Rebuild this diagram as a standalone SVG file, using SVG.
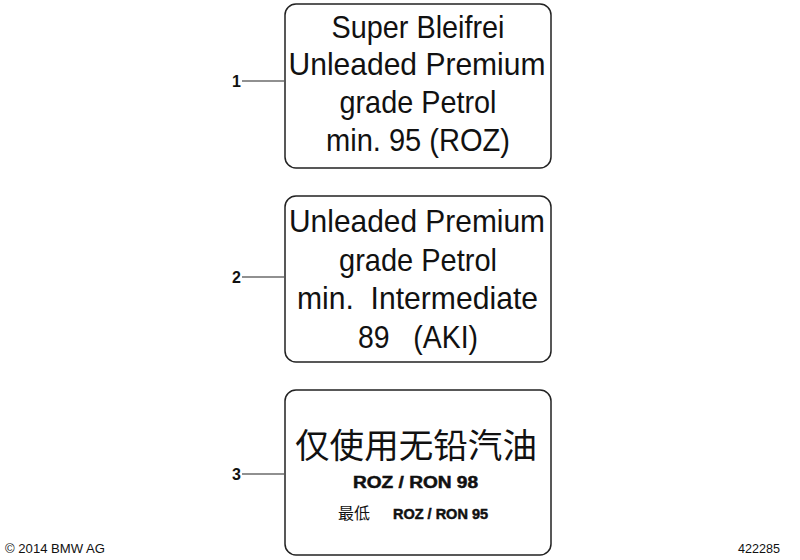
<svg xmlns="http://www.w3.org/2000/svg" width="800" height="560" viewBox="0 0 800 560">
<style>
.box{fill:#fff;stroke:#222;stroke-width:1.5}
.lead{stroke:#222;stroke-width:1.2;fill:none}
.t{font-family:"Liberation Sans",Arial,sans-serif;font-size:32px;fill:#111;text-anchor:middle}
.num{font-family:"Liberation Sans",Arial,sans-serif;font-size:16px;font-weight:bold;fill:#111;text-anchor:end}
.cn{font-family:"Liberation Sans","Noto Sans CJK SC",sans-serif;fill:#111}
.b{font-family:"Liberation Sans",Arial,sans-serif;font-weight:bold;fill:#111;stroke:#111;stroke-width:0.5}
.foot{font-family:"Liberation Sans",Arial,sans-serif;font-size:13px;fill:#111}
</style>
<rect width="800" height="560" fill="#fff"/>
<g id="connectors">
<line class="lead" x1="242" y1="81" x2="284" y2="81"/>
<line class="lead" x1="242" y1="277" x2="284" y2="277"/>
<line class="lead" x1="242" y1="474" x2="284" y2="474"/>
</g>
<g id="node1">
<rect class="box" x="285" y="4" width="266" height="164" rx="11"/>
<text class="t" x="418" y="38" textLength="173" lengthAdjust="spacingAndGlyphs">Super Bleifrei</text>
<text class="t" x="417" y="75" textLength="257" lengthAdjust="spacingAndGlyphs">Unleaded Premium</text>
<text class="t" x="418" y="113" textLength="157" lengthAdjust="spacingAndGlyphs">grade Petrol</text>
<text class="t" x="418" y="151" textLength="184" lengthAdjust="spacingAndGlyphs">min. 95 (ROZ)</text>
<text class="num" x="241" y="87">1</text>
</g>
<g id="node2">
<rect class="box" x="285" y="196" width="266" height="166" rx="11"/>
<text class="t" x="417" y="232" textLength="256" lengthAdjust="spacingAndGlyphs">Unleaded Premium</text>
<text class="t" x="418" y="271" textLength="158" lengthAdjust="spacingAndGlyphs">grade Petrol</text>
<text class="t" x="417.5" y="309" textLength="241" lengthAdjust="spacingAndGlyphs" xml:space="preserve">min.  Intermediate</text>
<text class="t" x="418" y="348" textLength="120" lengthAdjust="spacingAndGlyphs" xml:space="preserve">89   (AKI)</text>
<text class="num" x="241" y="283">2</text>
</g>
<g id="node3">
<rect class="box" x="285" y="390" width="266" height="165" rx="11"/>
<text class="cn" x="416" y="458" font-size="34" text-anchor="middle" textLength="242" lengthAdjust="spacingAndGlyphs">仅使用无铅汽油</text>
<text class="b" x="415.5" y="488" font-size="16" text-anchor="middle" textLength="125" lengthAdjust="spacingAndGlyphs">ROZ / RON 98</text>
<text class="cn" x="338" y="519" font-size="16" textLength="32" lengthAdjust="spacingAndGlyphs">最低</text>
<text class="b" x="393" y="519" font-size="14" textLength="95" lengthAdjust="spacingAndGlyphs">ROZ / RON 95</text>
<text class="num" x="241" y="480">3</text>
</g>
<text class="foot" x="5" y="553" textLength="100" lengthAdjust="spacingAndGlyphs">© 2014 BMW AG</text>
<text class="foot" x="738" y="553" fill="#333" textLength="42" lengthAdjust="spacingAndGlyphs">422285</text>
</svg>
